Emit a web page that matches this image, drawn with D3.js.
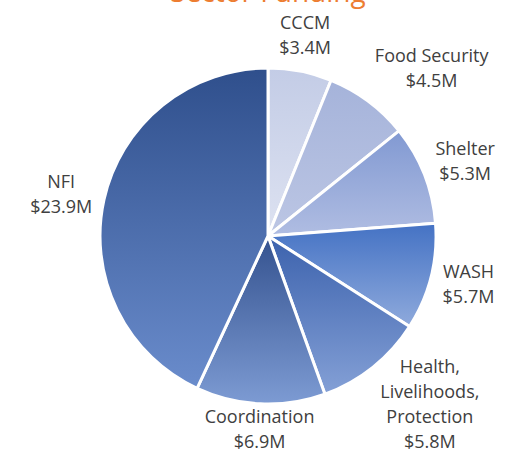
<html>
<head>
<script src="https://d3js.org/d3.v7.min.js"></script>
<style>
  body { margin: 0; background: #fff; }
  text { font-family: "Open Sans", sans-serif; }
</style>
</head>
<body>
<script>
// data, clockwise from 12 o'clock
const sectors = ["CCCM", "Food Security", "Shelter", "WASH", "Health, Livelihoods, Protection", "Coordination", "NFI"];
const labelLines = [["CCCM"], ["Food Security"], ["Shelter"], ["WASH"], ["Health,", "Livelihoods,", "Protection"], ["Coordination"], ["NFI"]];
const funding = [3.4, 4.5, 5.3, 5.7, 5.8, 6.9, 23.9];
const topColors = ["#c3cce6", "#a5b3da", "#8199d2", "#4472c4", "#3c62ad", "#34528f", "#2f4f8c"];
const bottomColors = ["#dde2f1", "#bcc6e4", "#b0bde2", "#8faadc", "#84a0d6", "#7d9bd3", "#6a8ccc"];
const title = "Sector Funding";

const w = 519, h = 455;
const cx = 268, cy = 236, r = 168;

const svg = d3.select("body").append("svg")
  .attr("width", w)
  .attr("height", h);

const defs = svg.append("defs");
sectors.forEach((s, i) => {
  const g = defs.append("linearGradient")
    .attr("id", "grad" + i)
    .attr("x1", 0).attr("y1", 0).attr("x2", 0).attr("y2", 1);
  g.append("stop").attr("offset", "0%").attr("stop-color", topColors[i]);
  g.append("stop").attr("offset", "100%").attr("stop-color", bottomColors[i]);
});

// title sits mostly above the top edge, as in the source image
svg.append("text")
  .attr("x", cx)
  .attr("y", 2)
  .attr("text-anchor", "middle")
  .attr("fill", "#ed7d31")
  .style("font-size", "28px")
  .text(title);

const pie = d3.pie().sort(null).value(d => d);
const arcs = pie(funding);
const arc = d3.arc().innerRadius(0).outerRadius(r);

const g = svg.append("g").attr("transform", `translate(${cx},${cy})`);

g.selectAll("path")
  .data(arcs)
  .enter()
  .append("path")
  .attr("d", arc)
  .attr("fill", (d, i) => `url(#grad${i})`)
  .attr("stroke", "#fff")
  .attr("stroke-width", 3)
  .attr("stroke-linejoin", "round");

// labels outside the end of each slice, kept inside the picture
const lineH = 25;
const R0 = r + 12;
const f = s => Math.sign(s) * Math.pow(Math.min(1, Math.abs(s) / 0.6), 2);
arcs.forEach((d, i) => {
  const lines = labelLines[i].concat(["$" + funding[i].toFixed(1) + "M"]);
  const t = g.append("text")
    .attr("text-anchor", "middle")
    .attr("fill", "#404040")
    .style("font-size", "18px");
  lines.forEach((l, j) => {
    t.append("tspan").attr("x", 0).attr("dy", j === 0 ? 0 : lineH).text(l);
  });
  const bb = t.node().getBBox();
  const a = (d.startAngle + d.endAngle) / 2;
  const sx = Math.sin(a), sy = -Math.cos(a);
  let px = sx * R0 + f(sx) * bb.width / 2;
  let py = sy * R0 + f(sy) * bb.height / 2;
  // clamp box to the drawing area
  py = Math.min(py, h - cy - 2 - bb.height / 2);
  py = Math.max(py, -cy + 8 + bb.height / 2);
  px = Math.min(px, w - cx - 2 - bb.width / 2);
  const bcx = bb.x + bb.width / 2, bcy = bb.y + bb.height / 2;
  t.attr("transform", `translate(${px - bcx},${py - bcy})`);
});
</script>
</body>
</html>
